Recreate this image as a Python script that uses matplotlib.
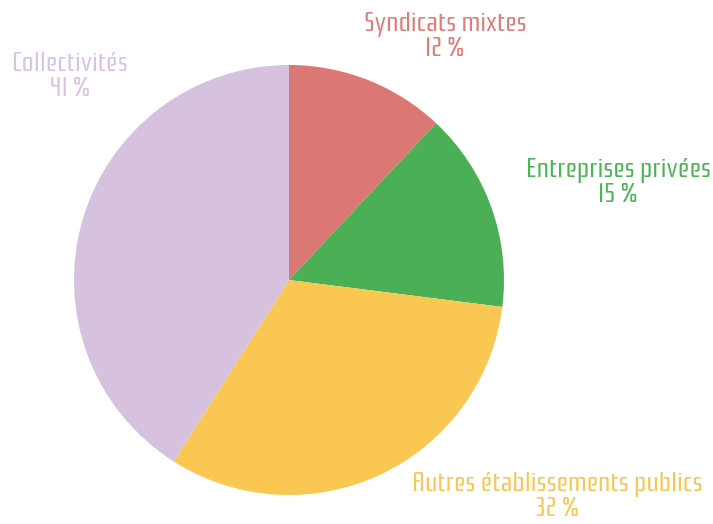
import matplotlib
matplotlib.use("Agg")
import matplotlib.pyplot as plt

categories = ["Syndicats mixtes", "Entreprises privées", "Autres établissements publics", "Collectivités"]
values = [12, 15, 32, 41]
colors = ["#DC7873", "#4BAF55", "#F9C752", "#D6C1DF"]
text_colors = ["#DF7C77", "#4DB356", "#F9C553", "#D8C3E0"]

# label centres in pixels (x, y from top)
label_pos = [(445, 37), (618, 183), (557, 497), (70, 77)]

W, H = 713, 524
fig = plt.figure(figsize=(W / 100, H / 100), dpi=100)
ax = fig.add_axes([(289 - 215) / W, (524 - 495) / H, 430 / W, 430 / H])
ax.pie(values, colors=colors, startangle=90, counterclock=False,
       wedgeprops=dict(linewidth=0))
ax.set_xlim(-1, 1)
ax.set_ylim(-1, 1)
ax.set_aspect("auto")

for cat, v, c, (x, y) in zip(categories, values, text_colors, label_pos):
    fig.text(x / W, 1 - y / H, f"{cat}\n{v} %", ha="center", va="center",
             color=c, fontsize=19.5, family=["Rationale", "DejaVu Sans"], linespacing=1.0)

fig.savefig("out.png", dpi=100)
